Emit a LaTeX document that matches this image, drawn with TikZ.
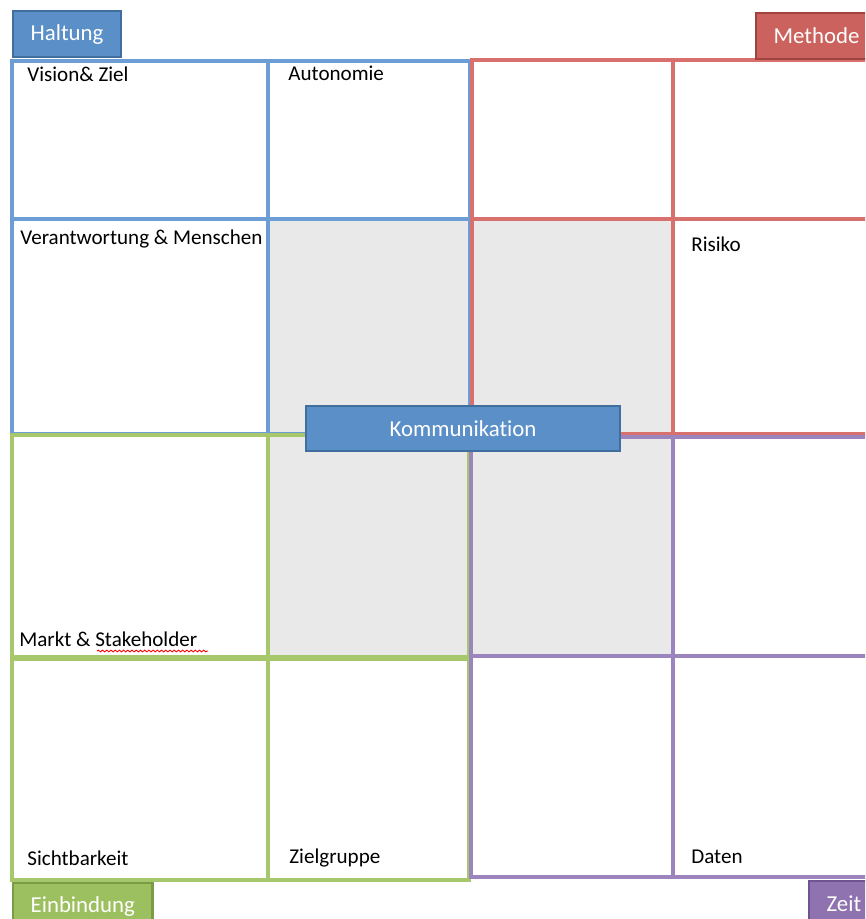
\documentclass[tikz,border=0pt]{standalone}
\usepackage{fontspec}
\setmainfont{Carlito}[Ligatures=NoCommon]
\usetikzlibrary{decorations.pathmorphing}

\definecolor{blaulinie}{HTML}{6C9ED5}
\definecolor{rotlinie}{HTML}{D8716D}
\definecolor{gruenlinie}{HTML}{A6C76C}
\definecolor{lilalinie}{HTML}{9C84BE}
\definecolor{mittegrau}{HTML}{E9E9E9}
\definecolor{blaufuell}{HTML}{5B8FC8}
\definecolor{blaurand}{HTML}{3F6E9F}
\definecolor{rotfuell}{HTML}{CB625D}
\definecolor{rotrand}{HTML}{A0423E}
\definecolor{gruenfuell}{HTML}{9CC060}
\definecolor{gruenrand}{HTML}{7C9B45}
\definecolor{lilafuell}{HTML}{8F73B1}
\definecolor{lilarand}{HTML}{6E5490}

\tikzset{
  feld/.style={line width=2pt},
  reiter/.style={text=white, font=\fontsize{13}{15}\selectfont, minimum height=0.92cm,
    inner xsep=0.35cm, inner ysep=0pt, line width=1.3pt, anchor=north west},
  feldtext/.style={anchor=base west, inner sep=0pt, font=\fontsize{12}{14}\selectfont}
}

\begin{document}
\begin{tikzpicture}[x=0.02cm,y=-0.02cm]
\useasboundingbox (0,0) rectangle (865,919);
\clip (0,0) rectangle (865,919);
% Mitte
\fill[mittegrau] (268,219) rectangle (673,657);
% Haltung
\draw[feld,blaulinie] (12,61) rectangle (470,434);
\draw[feld,blaulinie] (268,61) -- (268,434) (12,219) -- (470,219);
% Methode
\draw[feld,rotlinie] (472,60) rectangle (900,434);
\draw[feld,rotlinie] (673,60) -- (673,434) (472,219) -- (900,219);
% Einbindung
\draw[feld,gruenlinie] (12,435) rectangle (469,880);
\draw[feld,gruenlinie] (268,435) -- (268,880);
\draw[gruenlinie,line width=3pt] (12,658) -- (469,658);
% Zeit
\draw[feld,lilalinie] (471,437) rectangle (900,877);
\draw[feld,lilalinie] (673,437) -- (673,877) (471,656) -- (900,656);

\node[feldtext] (vision) at (27,82) {Vision\& Ziel};
\node[feldtext] (autonomie) at (288,81) {Autonomie};
\node[feldtext] (verantwortung) at (20,244) {Verantwortung \& Menschen};
\node[feldtext] (risiko) at (691,251) {Risiko};
\node[feldtext] (markt) at (19,646) {Markt \& Stakeholder};
\node[feldtext] (sichtbarkeit) at (27,865) {Sichtbarkeit};
\node[feldtext] (zielgruppe) at (289,863) {Zielgruppe};
\node[feldtext] (daten) at (691,863) {Daten};
\draw[red,line width=0.5pt,decorate,decoration={snake,amplitude=0.5pt,segment length=2.4pt}]
  (97,651) -- (208,651);

\node[reiter,fill=blaufuell,draw=blaurand] (haltung) at (12,10) {Haltung};
\node[reiter,fill=rotfuell,draw=rotrand] (methode) at (755,12) {Methode};
\node[reiter,fill=gruenfuell,draw=gruenrand] (einbindung) at (12,882) {Einbindung};
\node[reiter,fill=lilafuell,draw=lilarand] (zeit) at (808,880) {Zeit};
\node[reiter,fill=blaufuell,draw=blaurand,anchor=center,minimum width=6.28cm,minimum height=0.9cm]
  (kommunikation) at (463,428.5) {Kommunikation};
\end{tikzpicture}
\end{document}
